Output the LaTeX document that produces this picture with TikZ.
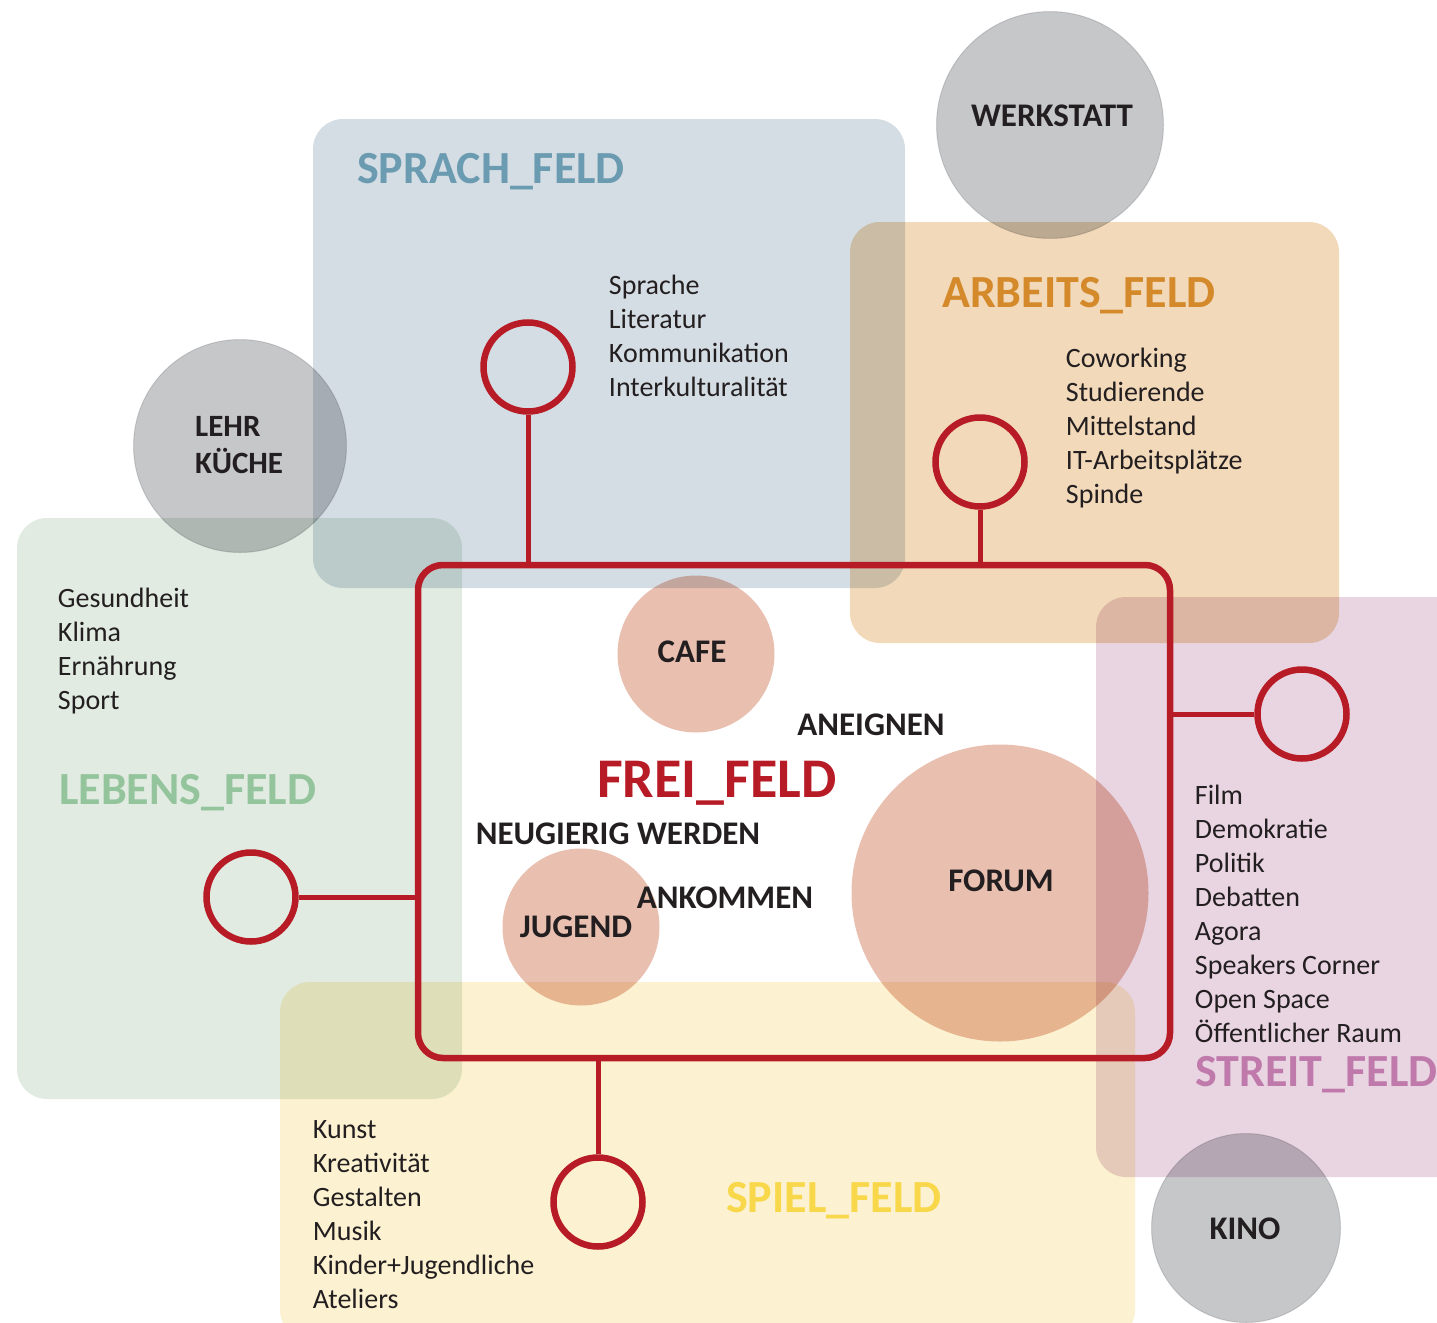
\documentclass[tikz,border=0pt]{standalone}
\usepackage{fontspec}
\setmainfont{Carlito}

\definecolor{freired}{HTML}{B71C26}
\definecolor{sprachbg}{HTML}{D5DDE4}
\definecolor{sprachtx}{HTML}{6A9BB0}
\definecolor{arbeitsbg}{HTML}{F2D9B9}
\definecolor{arbeitstx}{HTML}{D4892A}
\definecolor{lebensbg}{HTML}{E1EBE2}
\definecolor{lebenstx}{HTML}{93C49C}
\definecolor{streitbg}{HTML}{E9D5E2}
\definecolor{streittx}{HTML}{BF7AAB}
\definecolor{spielbg}{HTML}{FCF2D1}
\definecolor{spieltx}{HTML}{F8D84A}
\definecolor{raumgray}{HTML}{C6C7C9}
\definecolor{ortsalmon}{HTML}{E9BFB0}
\definecolor{textdark}{HTML}{231F20}

\begin{document}
\begin{tikzpicture}[x=1pt,y=-1pt,
  feldbox/.style={rounded corners=30pt, blend mode=multiply},
  raum/.style={circle, fill=raumgray, draw=raumgray!60, line width=1pt, blend mode=multiply, inner sep=0pt},
  ort/.style={circle, fill=ortsalmon, blend mode=multiply, inner sep=0pt},
  ring/.style={circle, draw=freired, line width=6.5pt, minimum size=89pt, inner sep=0pt},
  stem/.style={draw=freired, line width=5pt},
  feldtitel/.style={font=\fontsize{46}{55}\selectfont\bfseries, inner sep=0pt, anchor=base west},
  liste/.style={font=\fontsize{28}{34}\selectfont, align=left, inner sep=0.75pt, text=textdark, anchor=north west},
  schlag/.style={font=\fontsize{33}{40}\selectfont\bfseries, text=textdark, inner sep=0pt}]
\useasboundingbox (0,0) rectangle (1437,1322);

%Shape: Rectangle [id:sprach]
\fill[feldbox, sprachbg] (313,119) rectangle (905,588);
%Shape: Rectangle [id:arbeits]
\fill[feldbox, arbeitsbg] (850,222) rectangle (1339,643);
%Shape: Rectangle [id:lebens]
\fill[feldbox, lebensbg] (17,518) rectangle (462,1099);
%Shape: Rectangle [id:streit]
\fill[feldbox, streitbg] (1096,597) rectangle (1470,1177);
%Shape: Rectangle [id:spiel]
\fill[feldbox, spielbg] (280,982) rectangle (1135,1340);

%Shape: Circle [id:werkstatt]
\node[raum, minimum size=227pt] (werkstatt) at (1050,125) {};
%Shape: Circle [id:lehrkueche]
\node[raum, minimum size=213pt] (lehrkueche) at (240,446) {};
%Shape: Circle [id:kino]
\node[raum, minimum size=189pt] (kino) at (1246,1228) {};

%Shape: Circle [id:cafe]
\node[ort, minimum size=157pt] (cafe) at (696,654) {};
%Shape: Circle [id:jugend]
\node[ort, minimum size=157pt] (jugend) at (581,927) {};
%Shape: Circle [id:forum]
\node[ort, minimum size=297pt] (forum) at (1000,893) {};

% Text Node
\node[feldtitel, sprachtx] (sprachtitel) at (357,183) {SPRACH\_FELD};
% Text Node
\node[feldtitel, arbeitstx] (arbeitstitel) at (942,307) {ARBEITS\_FELD};
% Text Node
\node[feldtitel, lebenstx] (lebenstitel) at (59,804) {LEBENS\_FELD};
% Text Node
\node[feldtitel, streittx] (streittitel) at (1195,1086) {STREIT\_FELD};
% Text Node
\node[feldtitel, spieltx] (spieltitel) at (726,1212) {SPIEL\_FELD};
% Text Node
\node[font=\fontsize{56}{66}\selectfont\bfseries, text=freired, inner sep=0pt, anchor=base west] (freititel) at (597,797) {FREI\_FELD};

% Text Node
\node[liste] (sprachliste) at (608,274) {Sprache\\Literatur\\Kommunikation\\Interkulturalität};
% Text Node
\node[liste] (arbeitsliste) at (1065,347) {Coworking\\Studierende\\Mittelstand\\IT-Arbeitsplätze\\Spinde};
% Text Node
\node[liste] (lebensliste) at (57,587) {Gesundheit\\Klima\\Ernährung\\Sport};
% Text Node
\node[liste] (streitliste) at (1194,784) {Film\\Demokratie\\Politik\\Debatten\\Agora\\Speakers Corner\\Open Space\\Öffentlicher Raum};
% Text Node
\node[liste] (spielliste) at (312,1120) {Kunst\\Kreativität\\Gestalten\\Musik\\Kinder+Jugendliche\\Ateliers};

% Text Node
\node[schlag] (werkstatttext) at (1052,116) {WERKSTATT};
% Text Node
\node[schlag, font=\fontsize{31}{37}\selectfont\bfseries, align=left, anchor=west] (lehrtext) at (195,445) {LEHR\\KÜCHE};
% Text Node
\node[schlag] (kinotext) at (1245,1229) {KINO};
% Text Node
\node[schlag] (cafetext) at (692,652) {CAFE};
% Text Node
\node[schlag] (jugendtext) at (576,927) {JUGEND};
% Text Node
\node[schlag] (forumtext) at (1001,881) {FORUM};
% Text Node
\node[schlag] (aneignen) at (871,725) {ANEIGNEN};
% Text Node
\node[schlag] (neugierig) at (618,834) {NEUGIERIG WERDEN};
% Text Node
\node[schlag] (ankommen) at (725,898) {ANKOMMEN};

%Shape: Rectangle [id:frei]
\node[draw=freired, line width=6.5pt, rounded corners=25pt, minimum width=752pt, minimum height=493pt, inner sep=0pt] (frei) at (794,811.5) {};

%Shape: Circle [id:rings]
\node[ring] (sprachring) at (528,367) {};
\node[ring] (arbeitsring) at (980,462) {};
\node[ring] (lebensring) at (251,897) {};
\node[ring] (streitring) at (1302,714) {};
\node[ring] (spielring) at (598,1202) {};

%Straight Lines [id:stems]
\draw[stem] (sprachring.south) -- (sprachring.south |- frei.north);
\draw[stem] (arbeitsring.south) -- (arbeitsring.south |- frei.north);
\draw[stem] (lebensring.east) -- (lebensring.east -| frei.west);
\draw[stem] (streitring.west) -- (streitring.west -| frei.east);
\draw[stem] (spielring.north) -- (spielring.north |- frei.south);

\end{tikzpicture}
\end{document}
